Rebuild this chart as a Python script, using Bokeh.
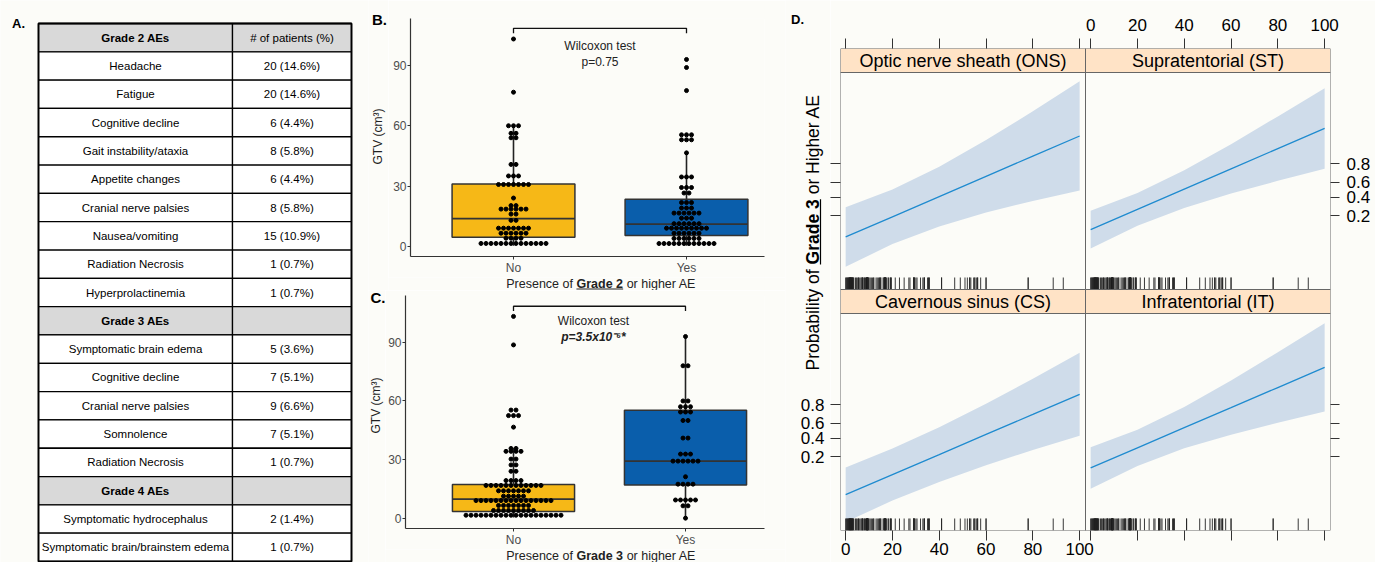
import math
import numpy as np
from bokeh.plotting import figure
from bokeh.models import Range1d, LinearAxis, FixedTicker, Label, CustomJSTickFormatter
from bokeh.layouts import row, column
from bokeh.embed import file_html
from bokeh.resources import INLINE
from bokeh.core.properties import value

# ======================= DATA =======================
ae_names = ["Grade 2 AEs", "Headache", "Fatigue", "Cognitive decline", "Gait instability/ataxia",
            "Appetite changes", "Cranial nerve palsies", "Nausea/vomiting", "Radiation Necrosis",
            "Hyperprolactinemia", "Grade 3 AEs", "Symptomatic brain edema", "Cognitive decline",
            "Cranial nerve palsies", "Somnolence", "Radiation Necrosis", "Grade 4 AEs",
            "Symptomatic hydrocephalus", "Symptomatic brain/brainstem edema"]
ae_counts = ["# of patients (%)", "20 (14.6%)", "20 (14.6%)", "6 (4.4%)", "8 (5.8%)", "6 (4.4%)",
             "8 (5.8%)", "15 (10.9%)", "1 (0.7%)", "1 (0.7%)", "", "5 (3.6%)", "7 (5.1%)",
             "9 (6.6%)", "7 (5.1%)", "1 (0.7%)", "", "2 (1.4%)", "1 (0.7%)"]
header_rows = [0, 10, 16]

# GTV (cm3) per patient, split by presence of grade >=2 AE (panel B)
b_no = [0.3, 0.5, 0.8, 1.2, 1.4, 1.5, 1.6, 1.7, 1.8, 1.9, 2.0, 2.1, 2.3, 2.5, 3.0, 3.5,
        4.5,
        5.0, 5.5, 6.0, 6.5, 7.0, 7.5, 7.5, 8.0, 8.0, 8.5, 9.0, 9.0, 9.5, 10.0, 12.0,
        13.8,
        15.0, 17.0, 17.5, 18.0, 18.0, 18.5, 19.0, 19.5, 20.0, 20.5, 24.0, 30.0, 30.5, 30.5, 31.0,
        31.0,
        31.0, 31.5, 34.0, 35.5, 36.0, 40.5, 41.0, 53.0, 55.0, 56.0, 56.5, 59.5, 60.0, 60.5, 76.7, 103.2]
b_yes = [0.2, 0.5, 1.1, 1.3, 1.5, 1.6, 1.7, 1.8, 2.0, 2.0, 2.2, 2.5, 2.8, 3.0, 3.5, 4.0, 4.5, 5.0,
         5.5,
         6.0, 6.5, 7.0, 7.0, 7.5, 8.0, 8.0, 8.5, 9.0, 9.0, 9.5, 9.5, 10.0, 10.0, 10.5, 10.5, 11.0,
         11.0, 11.5, 12.0, 13.0, 14.0, 15.0, 15.5, 16.0, 16.5, 17.0, 17.0, 17.5, 18.0, 19.0, 20.0,
         21.0, 22.0, 22.5,
         26.0, 27.0, 29.0, 29.0, 29.5, 33.5, 34.5, 35.5, 46.5, 52.0, 53.0, 54.0, 55.0, 55.5, 56.0,
         77.5, 89.0, 93.0]
# split by presence of grade >=3 AE (panel C)
c_no = [0.3, 0.5, 0.8, 1.0, 1.2, 1.4, 1.5, 1.6, 1.7, 1.8, 1.9, 2.0, 2.0, 2.1, 2.2, 2.3, 2.4, 2.5,
        2.6, 2.7, 2.8, 2.9, 3.0, 3.1,
        3.3, 3.5, 4.2, 4.6, 5.0, 5.5,
        6.0, 6.5, 7.0, 7.0, 7.2, 7.5, 8.0, 8.0,
        8.5, 8.7, 8.9, 9.0, 9.0, 9.1, 9.2, 9.3, 9.3, 9.4, 9.5, 9.6,
        9.8, 10.0, 10.5, 11.0, 11.5, 12.0, 12.0,
        13.0, 13.5, 14.0, 14.5, 14.6, 15.0, 15.0,
        16.0, 16.3, 16.5, 16.6, 16.7, 16.8, 16.9, 17.0, 17.0, 17.0,
        17.2, 17.5, 19.0, 19.2, 19.4, 19.5, 23.0, 25.0, 27.0, 27.5, 30.0, 30.5, 33.0, 33.6, 35.0,
        35.4, 35.6, 35.8,
        46.6, 52.0, 53.0, 53.0, 54.7, 56.0, 88.7, 103.3]
c_yes = [0.0, 5.5, 7.1, 9.3, 9.3, 9.3, 9.3, 9.3, 16.6, 17.0, 18.2, 18.2, 21.2,
         29.2, 29.2, 29.2, 29.2, 29.2, 29.2, 32.0, 33.6, 33.6, 41.0, 41.0, 49.0, 51.0, 53.5,
         55.2, 55.2, 56.4, 56.4, 57.7, 60.0, 60.0, 78.0, 78.0, 93.0]
group_labels = ["No", "Yes"]
gtv_ticks = [0, 30, 60, 90]
b_test = ["Wilcoxon test", "p=0.75"]
c_test = ["Wilcoxon test", "p=3.5x10\u207b\u2076*"]

# Panel D: effect of GTV on probability of grade >=3 AE, on the logit (linear predictor) scale
eff_x = [0, 20, 40, 60, 80, 100]
ons_fit = [-2.50, -1.43, -0.36, 0.72, 1.79, 2.86]
ons_lo = [-4.08, -2.88, -1.94, -1.20, -0.59, -0.04]
ons_hi = [-0.92, 0.02, 1.22, 2.64, 4.17, 5.76]
st_fit = [-2.11, -1.04, 0.04, 1.11, 2.19, 3.26]
st_lo = [-3.11, -1.91, -0.96, -0.20, 0.48, 1.12]
st_hi = [-1.11, -0.17, 1.04, 2.42, 3.90, 5.40]
cs_fit = [-3.39, -2.32, -1.26, -0.19, 0.87, 1.94]
cs_lo = [-4.84, -3.70, -2.71, -1.82, -1.02, -0.26]
cs_hi = [-1.94, -0.94, 0.19, 1.44, 2.76, 4.14]
it_fit = [-1.97, -0.90, 0.17, 1.23, 2.30, 3.37]
it_lo = [-3.07, -1.86, -0.93, -0.21, 0.43, 1.03]
it_hi = [-0.87, 0.06, 1.27, 2.67, 4.17, 5.71]
panel_titles = ["Optic nerve sheath (ONS)", "Supratentorial (ST)", "Cavernous sinus (CS)", "Infratentorial (IT)"]
prob_ticks = [0.2, 0.4, 0.6, 0.8]
gtv_axis_ticks = [0, 20, 40, 60, 80, 100]

# ======================= STYLE =======================
BG = "#fcfcf8"
SANS = "Liberation Sans"
YELLOW = "#f6b817"
BLUE = "#0a5eab"
BAND = "#cfdcea"
LINE = "#1f8bcf"
STRIP = "#ffe3c6"
BORDER = "#666666"
DFONT = "17px"


def base_fig(w, h, xr, yr, bl, br, bt, bb):
    p = figure(width=int(w), height=int(h), x_range=xr, y_range=yr, output_backend="svg",
               toolbar_location=None, x_axis_type=None, y_axis_type=None,
               min_border_left=bl, min_border_right=br, min_border_top=bt, min_border_bottom=bb)
    p.background_fill_color = BG
    p.border_fill_color = BG
    p.outline_line_color = None
    return p


def page_fig(x0, x1, y0, y1):
    # helper canvas whose frame covers it entirely; y data = -page_y
    return base_fig(x1 - x0, y1 - y0, Range1d(x0, x1), Range1d(-y1, -y0), 0, 0, 0, 0)


def ptext(p, x, y, txt, size, style="normal", align="center", angle=0.0, color="black"):
    p.text(x=[x], y=[-y], text=[txt], angle=angle, text_font=value(SANS), text_font_size=size,
           text_font_style=style, text_align=align, text_baseline="middle", text_color=color)


# ======================= PANEL A: table =======================
RH = (561 - 23) / 19.0
pA = base_fig(368, 562, Range1d(0, 368), Range1d(19 + 1 / RH, -23 / RH), 0, 0, 0, 0)
idx = list(range(len(ae_names)))
fills = ["#d9d9d9" if i in header_rows else "white" for i in idx]
for lft, rgt in [(38, 232), (232, 351)]:
    pA.quad(left=lft, right=rgt, top=idx, bottom=[i + 1 for i in idx], fill_color=fills,
            line_color="black", line_width=1.3)
pA.quad(left=[38], right=[351], top=[0], bottom=[len(idx)], fill_color=None,
        line_color="black", line_width=1.8)
bold_i = [i for i in idx if i in header_rows]
norm_i = [i for i in idx if i not in header_rows]
pA.text(x=135, y=[i + 0.5 for i in bold_i], text=[ae_names[i] for i in bold_i],
        text_font=value(SANS), text_font_size="11.5px", text_font_style="bold",
        text_align="center", text_baseline="middle", text_color="black")
pA.text(x=135, y=[i + 0.5 for i in norm_i], text=[ae_names[i] for i in norm_i],
        text_font=value(SANS), text_font_size="11.5px",
        text_align="center", text_baseline="middle", text_color="black")
pA.text(x=291.5, y=[i + 0.5 for i in idx], text=ae_counts,
        text_font=value(SANS), text_font_size="11.5px",
        text_align="center", text_baseline="middle", text_color="black")
pA.text(x=[18], y=[(22.5 - 23) / RH], text=["A."], text_font=value(SANS), text_font_size="13px",
        text_font_style="bold", text_align="center", text_baseline="middle", text_color="black")


# ======================= PANELS B / C =======================
def dot_layout(vals, binwidth, spacing):
    v = sorted(vals)
    xs, ys = [], []
    i, n = 0, len(v)
    while i < n:
        j = i
        while j < n and v[j] < v[i] + binwidth:
            j += 1
        grp = v[i:j]
        c = (grp[0] + grp[-1]) / 2.0
        k = len(grp)
        for m in range(k):
            xs.append((m - (k - 1) / 2.0) * spacing)
            ys.append(c)
        i = j
    return np.array(xs), np.array(ys)


def box_stats(vals):
    a = np.asarray(vals, dtype=float)
    q1, med, q3 = np.percentile(a, [25, 50, 75])
    iqr = q3 - q1
    lo = a[a >= q1 - 1.5 * iqr].min()
    hi = a[a <= q3 + 1.5 * iqr].max()
    return q1, med, q3, lo, hi


def box_panel(w, h, frame, cat_px, px_per_cat, yr, borders, groups, test, test_x):
    fl, fr, ft, fb = frame
    x0 = 1 - (cat_px - fl) / px_per_cat
    x1 = 1 + (fr - cat_px) / px_per_cat
    p = base_fig(w, h, Range1d(x0, x1), Range1d(*yr), *borders)
    ypp = (yr[1] - yr[0]) / (fb - ft)

    def ypage(py):
        return yr[1] - (py - ft) * ypp

    xa = LinearAxis(ticker=FixedTicker(ticks=[1, 2]),
                    major_label_overrides={1: group_labels[0], 2: group_labels[1]})
    ya = LinearAxis(ticker=FixedTicker(ticks=gtv_ticks))
    for ax in (xa, ya):
        ax.axis_line_color = "#333333"
        ax.axis_line_width = 1.2
        ax.major_tick_line_color = "#333333"
        ax.major_tick_in = 0
        ax.major_tick_out = 3
        ax.minor_tick_line_color = None
        ax.major_label_text_font = SANS
        ax.major_label_text_font_size = "12px"
        ax.major_label_text_color = "#4d4d4d"
        ax.major_label_standoff = 1
    p.add_layout(xa, "below")
    p.add_layout(ya, "left")

    spacing = 5.0 / px_per_cat
    for cat, vals, col in groups:
        q1, med, q3, lo, hi = box_stats(vals)
        p.segment(x0=[cat, cat], y0=[lo, q3], x1=[cat, cat], y1=[q1, hi],
                  line_color="#222222", line_width=1.6)
        p.quad(left=[cat - 0.355], right=[cat + 0.355], bottom=[q1], top=[q3],
               fill_color=col, line_color="#333333", line_width=1.5)
        p.segment(x0=[cat - 0.355], y0=[med], x1=[cat + 0.355], y1=[med],
                  line_color="#333333", line_width=1.8)
        xs, ys = dot_layout(vals, 2.5, spacing)
        p.scatter(x=cat + xs, y=ys, size=4, fill_color="black", line_color="black")

    p.line(x=[1, 1, 2, 2], y=[106, 108.5, 108.5, 106], line_color="#111111", line_width=1.3)
    p.add_layout(Label(x=test_x, y=ypage(test[2]), text=test[0], text_font=SANS,
                       text_font_size="12px", text_align="center", text_baseline="middle",
                       text_color="#222222"))
    p.add_layout(Label(x=test_x, y=ypage(test[3]), text=test[1], text_font=SANS,
                       text_font_size="12px", text_align="center", text_baseline="middle",
                       text_color="#222222", text_font_style=test[4]))
    return p


def side_fig(x0, x1, y0, y1, tag, tag_xy, ylab_xy):
    s = page_fig(x0, x1, y0, y1)
    ptext(s, tag_xy[0], tag_xy[1], tag, "15px", style="bold")
    ptext(s, ylab_xy[0], ylab_xy[1], "GTV (cm\u00b3)", "12px", angle=math.pi / 2, color="#222222")
    return s


def title_fig(x0, x1, y0, y1, cy, grade, underline):
    t = page_fig(x0, x1, y0, y1)
    bold_c, bold_w = 599.3, 46.7
    ptext(t, bold_c - bold_w / 2 - 3.5, cy, "Presence of", "12.5px", align="right", color="#222222")
    ptext(t, bold_c, cy, grade, "12.5px", style="bold", color="#222222")
    ptext(t, bold_c + bold_w / 2 + 3.5, cy, "or higher AE", "12.5px", align="left", color="#222222")
    if underline:
        t.segment(x0=[bold_c - bold_w / 2], y0=[-(cy + 5.5)], x1=[bold_c + bold_w / 2],
                  y1=[-(cy + 5.5)], line_color="#222222", line_width=1)
    return t


leftB = side_fig(368, 388, 0, 290, "B.", (379, 19), (377, 136))
pB = box_panel(397, 277, (410, 764, 18, 258), 513, 173.0, (-5.1, 113.4), (22, 21, 18, 19),
               [(1, b_no, YELLOW), (2, b_yes, BLUE)],
               (b_test[0], b_test[1], 45.7, 62.3, "normal"), 1.5)
titleB = title_fig(388, 785, 277, 290, 283, "Grade 2", True)

leftC = side_fig(368, 385, 290, 562, "C.", (377.5, 296.5), (375, 405))
pC = box_panel(400, 259, (405, 764, 295, 530), 513, 172.0, (-5.3, 114.0), (20, 21, 5, 19),
               [(1, c_no, YELLOW), (2, c_yes, BLUE)],
               (c_test[0], c_test[1], 320.7, 336.7, "bold italic"), 1.465)
titleC = title_fig(385, 785, 549, 562, 555.5, "Grade 3", False)

# ======================= PANEL D =======================
S, P = 24, 217
FR_TOP = 48
FR_BOT = FR_TOP + 2 * (S + P)          # 530
PW = 245
XLO, XHI = -2.2, 102.5
YLO, YHI = -5.29, 6.23
XSPAN = XHI - XLO
ux = XSPAN / PW
uy = (YHI - YLO) / P
SHIFT = (S + P) * uy

pD = base_fig(545, 562, Range1d(XLO, XLO + 2 * XSPAN), Range1d(YLO - SHIFT, YHI + S * uy),
              10, 45, FR_TOP, 562 - FR_BOT)
pD.extra_x_ranges = {"R": Range1d(XLO - XSPAN, XHI)}
pD.extra_y_ranges = {"B": Range1d(YLO, YHI + S * uy + SHIFT)}

gtv_all = c_no + c_yes
rug = [g for g in gtv_all if XLO <= g <= XHI]
panels = [("default", "default", panel_titles[0], ons_fit, ons_lo, ons_hi),
          ("R", "default", panel_titles[1], st_fit, st_lo, st_hi),
          ("default", "B", panel_titles[2], cs_fit, cs_lo, cs_hi),
          ("R", "B", panel_titles[3], it_fit, it_lo, it_hi)]
for xr, yr, title, fit, lo, hi in panels:
    kw = dict(x_range_name=xr, y_range_name=yr)
    pD.patch(x=eff_x + eff_x[::-1], y=hi + lo[::-1], fill_color=BAND, line_color=None, **kw)
    pD.line(x=eff_x, y=fit, line_color=LINE, line_width=1.3, **kw)
    pD.segment(x0=rug, y0=YLO, x1=rug, y1=YLO + 12 * uy, line_color="#222222", line_width=0.9, **kw)
    pD.quad(left=[XLO], right=[XHI], bottom=[YHI], top=[YHI + S * uy], fill_color=STRIP,
            line_color=BORDER, line_width=1, **kw)
    pD.text(x=[(XLO + XHI) / 2], y=[YHI + S * uy / 2], text=[title], text_font=value(SANS),
            text_font_size="18px", text_align="center", text_baseline="middle",
            text_color="black", **kw)
    pD.quad(left=[XLO], right=[XHI], bottom=[YLO], top=[YHI], fill_color=None,
            line_color=BORDER, line_width=1, **kw)

lt = [math.log(q / (1 - q)) for q in prob_ticks]


def d_axis(ax, tick_out, standoff, size=DFONT):
    ax.axis_line_color = None
    ax.major_tick_in = 0
    ax.major_tick_out = tick_out
    ax.major_tick_line_color = "#333333"
    ax.minor_tick_line_color = None
    ax.major_label_text_font = SANS
    ax.major_label_text_font_size = size
    ax.major_label_text_color = "black"
    ax.major_label_standoff = standoff
    return ax


top_ax = d_axis(LinearAxis(x_range_name="R",
                           ticker=FixedTicker(ticks=[t - XSPAN for t in gtv_axis_ticks] + gtv_axis_ticks),
                           formatter=CustomJSTickFormatter(code="return tick > -1 ? tick.toFixed(0) : '';")),
                10, 8)
bot_ax = d_axis(LinearAxis(x_range_name="default", y_range_name="B",
                           ticker=FixedTicker(ticks=gtv_axis_ticks + [t + XSPAN for t in gtv_axis_ticks]),
                           formatter=CustomJSTickFormatter(code="return tick < 101 ? tick.toFixed(0) : '';")),
                10, 2)
left_ax = d_axis(LinearAxis(y_range_name="B",
                            ticker=FixedTicker(ticks=[l + SHIFT for l in lt] + lt),
                            formatter=CustomJSTickFormatter(code="return '';")),
                 10, 0, "1px")
right_ax = d_axis(LinearAxis(y_range_name="default",
                             ticker=FixedTicker(ticks=lt + [l - SHIFT for l in lt]),
                             formatter=CustomJSTickFormatter(
                                 code="return tick > -7 ? (1/(1+Math.exp(-tick))).toFixed(1) : '';")),
                  9, 7)
pD.add_layout(top_ax, "above")
pD.add_layout(bot_ax, "below")
pD.add_layout(left_ax, "left")
pD.add_layout(right_ax, "right")

# left strip of panel D: tag, y title and the probability labels of the lower-left panel
leftD = page_fig(785, 830, 0, 562)
leftD.extra_y_ranges = {"B": Range1d(YLO - (562 - FR_BOT) * uy, YHI + (FR_TOP + S + P + S) * uy)}
leftD.text(x=[824] * len(lt), y=lt, text=["%.1f" % q for q in prob_ticks], y_range_name="B",
           text_font=value(SANS), text_font_size=DFONT, text_align="right",
           text_baseline="middle", text_color="black")
ptext(leftD, 797, 19, "D.", "13px", style="bold")
ylx = 812
bold_c = 231.3
bold_w = 65.2
ptext(leftD, ylx, bold_c + bold_w / 2 + 4.9, "Probability of", "17.5px", align="right",
      angle=math.pi / 2)
ptext(leftD, ylx, bold_c, "Grade 3", "17.5px", style="bold", angle=math.pi / 2)
ptext(leftD, ylx, bold_c - bold_w / 2 - 4.9, "or Higher AE", "17.5px", align="left",
      angle=math.pi / 2)
leftD.segment(x0=[820], y0=[-(bold_c + bold_w / 2)], x1=[820], y1=[-(bold_c - bold_w / 2)],
              line_color="black", line_width=1.2)

layout = row(
    column(pA),
    column(
        row(column(leftB), column(column(pB), column(titleB))),
        row(column(leftC), column(column(pC), column(titleC))),
    ),
    row(column(leftD), column(pD)),
)
open("out.html", "w").write(file_html(layout, INLINE))
